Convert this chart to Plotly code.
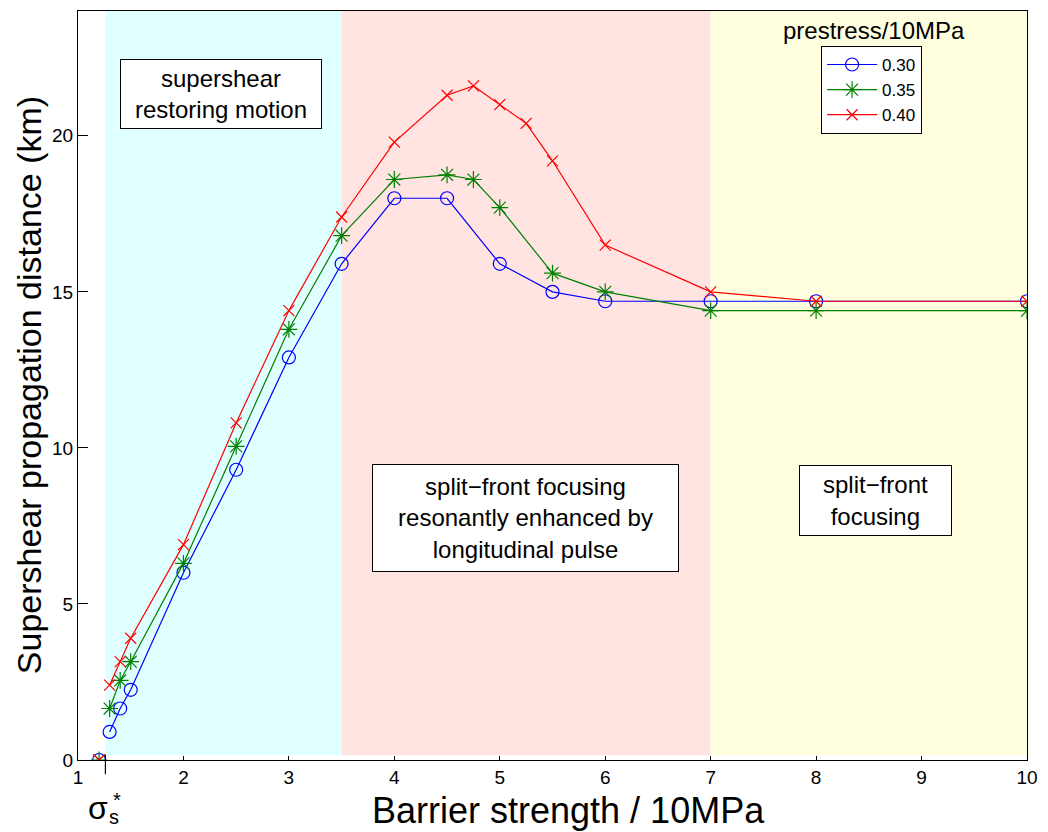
import plotly.graph_objects as go

# ---- data ----
x_030 = [1.3, 1.4, 1.5, 2, 2.5, 3, 3.5, 4, 4.5, 5, 5.5, 6, 7, 8, 10]
y_030 = [0.9, 1.65, 2.25, 6.0, 9.3, 12.9, 15.9, 18.0, 18.0, 15.9, 15.0, 14.7, 14.7, 14.7, 14.7]

x_035 = [1.3, 1.4, 1.5, 2, 2.5, 3, 3.5, 4, 4.5, 4.75, 5, 5.5, 6, 7, 8, 10]
y_035 = [1.65, 2.55, 3.15, 6.3, 10.05, 13.8, 16.8, 18.6, 18.75, 18.6, 17.7, 15.6, 15.0, 14.4, 14.4, 14.4]

x_040 = [1.3, 1.4, 1.5, 2, 2.5, 3, 3.5, 4, 4.5, 4.75, 5, 5.25, 5.5, 6, 7, 8, 10]
y_040 = [2.4, 3.15, 3.9, 6.9, 10.8, 14.4, 17.4, 19.8, 21.3, 21.6, 21.0, 20.4, 19.2, 16.5, 15.0, 14.7, 14.7]

x_onset = [1.2]
y_onset = [0]

sigma_s = 1.26
regions = [(sigma_s, 3.5, "#e0ffff"), (3.5, 7, "#ffe4e2"), (7, 10, "#ffffe0")]

series_names = ["0.30", "0.35", "0.40"]
x_ticks = [1, 2, 3, 4, 5, 6, 7, 8, 9, 10]
y_ticks = [0, 5, 10, 15, 20]

FONT = "Liberation Sans, Arial, sans-serif"

fig = go.Figure()

styles = [
    ("#0000ff", "circle-open", 13),
    ("#008000", "asterisk-open", 14),
    ("#ff0000", "x-thin-open", 11),
]
for (xs, ys), name, (col, sym, sz) in zip(
        [(x_030, y_030), (x_035, y_035), (x_040, y_040)], series_names, styles):
    fig.add_trace(go.Scatter(
        x=xs, y=ys, mode="lines+markers", name=name,
        line=dict(color=col, width=1.2),
        marker=dict(symbol=sym, size=sz, color=col, line=dict(color=col, width=1.2)),
    ))
for col, sym, sz in styles:
    fig.add_trace(go.Scatter(
        x=x_onset, y=y_onset, mode="markers", showlegend=False,
        marker=dict(symbol=sym, size=sz, color=col, line=dict(color=col, width=1.2)),
    ))

for x0, x1, c in regions:
    fig.add_shape(type="rect", xref="x", yref="y", x0=x0, x1=x1, y0=0.15, y1=24,
                  fillcolor=c, line=dict(width=0), layer="below")

# sigma_s* tick mark crossing the x axis
sx = (sigma_s - 1) / 9
fig.add_shape(type="line", xref="paper", yref="paper", x0=sx, x1=sx, y0=-0.019, y1=0.007,
              line=dict(color="black", width=1.2))

box_font = dict(family=FONT, size=24, color="black")
boxes = [
    (2.355, 21.35, "supershear<br>restoring motion", 200, 68),
    (5.245, 7.74, "split−front focusing<br>resonantly enhanced by<br>longitudinal pulse", 305, 106),
    (8.56, 8.33, "split−front<br>focusing", 151, 69),
]
for bx, by, txt, w, h in boxes:
    fig.add_annotation(x=bx, y=by, xref="x", yref="y", text=txt, showarrow=False,
                       font=box_font, bgcolor="white", bordercolor="black", borderwidth=1,
                       borderpad=0, width=w, height=h, align="center")

# axis titles
fig.add_annotation(xref="paper", yref="paper", x=0.517, y=-0.067, text="Barrier strength / 10MPa",
                   showarrow=False, font=dict(family=FONT, size=36, color="black"),
                   xanchor="center", yanchor="middle")
fig.add_annotation(xref="paper", yref="paper", x=-0.052, y=0.5,
                   text="Supershear propagation distance (km)", textangle=-90,
                   showarrow=False, font=dict(family=FONT, size=34, color="black"),
                   xanchor="center", yanchor="middle")
# sigma_s* label
fig.add_annotation(xref="paper", yref="paper", x=(98 - 78) / 954, y=(760 - 808) / 750, text="σ",
                   showarrow=False, font=dict(family=FONT, size=32, color="black"),
                   xanchor="center", yanchor="middle")
fig.add_annotation(xref="paper", yref="paper", x=(114 - 78) / 954, y=(760 - 817) / 750, text="s",
                   showarrow=False, font=dict(family=FONT, size=20, color="black"),
                   xanchor="center", yanchor="middle")
fig.add_annotation(xref="paper", yref="paper", x=(117 - 78) / 954, y=(760 - 800) / 750, text="*",
                   showarrow=False, font=dict(family=FONT, size=20, color="black"),
                   xanchor="center", yanchor="middle")
# legend title
fig.add_annotation(xref="paper", yref="paper", x=(878 - 78) / 954, y=(760 - 30) / 750,
                   text="prestress/10MPa", showarrow=False,
                   font=dict(family=FONT, size=24, color="black"),
                   xanchor="center", yanchor="middle")

fig.update_layout(
    width=1048, height=832,
    margin=dict(l=78, r=16, t=10, b=72),
    paper_bgcolor="white", plot_bgcolor="white",
    font=dict(family=FONT, color="black"),
    showlegend=True,
    legend=dict(x=(825 - 78) / 954, y=(760 - 45) / 750, xanchor="left", yanchor="top",
                bgcolor="white", bordercolor="black", borderwidth=1, itemwidth=50,
                font=dict(family=FONT, size=17, color="black"), tracegroupgap=0),
    xaxis=dict(range=[1, 10], tickvals=x_ticks, ticktext=[str(t) for t in x_ticks],
               ticks="inside", ticklen=4, tickcolor="black", showgrid=False, zeroline=False,
               showline=True, linecolor="black", linewidth=1.2, mirror=True,
               tickfont=dict(family=FONT, size=19, color="black")),
    yaxis=dict(range=[0, 24], tickvals=y_ticks, ticktext=[str(t) for t in y_ticks],
               ticks="inside", ticklen=10, tickcolor="black", showgrid=False, zeroline=False,
               showline=True, linecolor="black", linewidth=1.2, mirror=True,
               tickfont=dict(family=FONT, size=19, color="black")),
)

fig.write_html("out.html", config={"displayModeBar": False},
               post_script="document.body.style.margin='0';")
